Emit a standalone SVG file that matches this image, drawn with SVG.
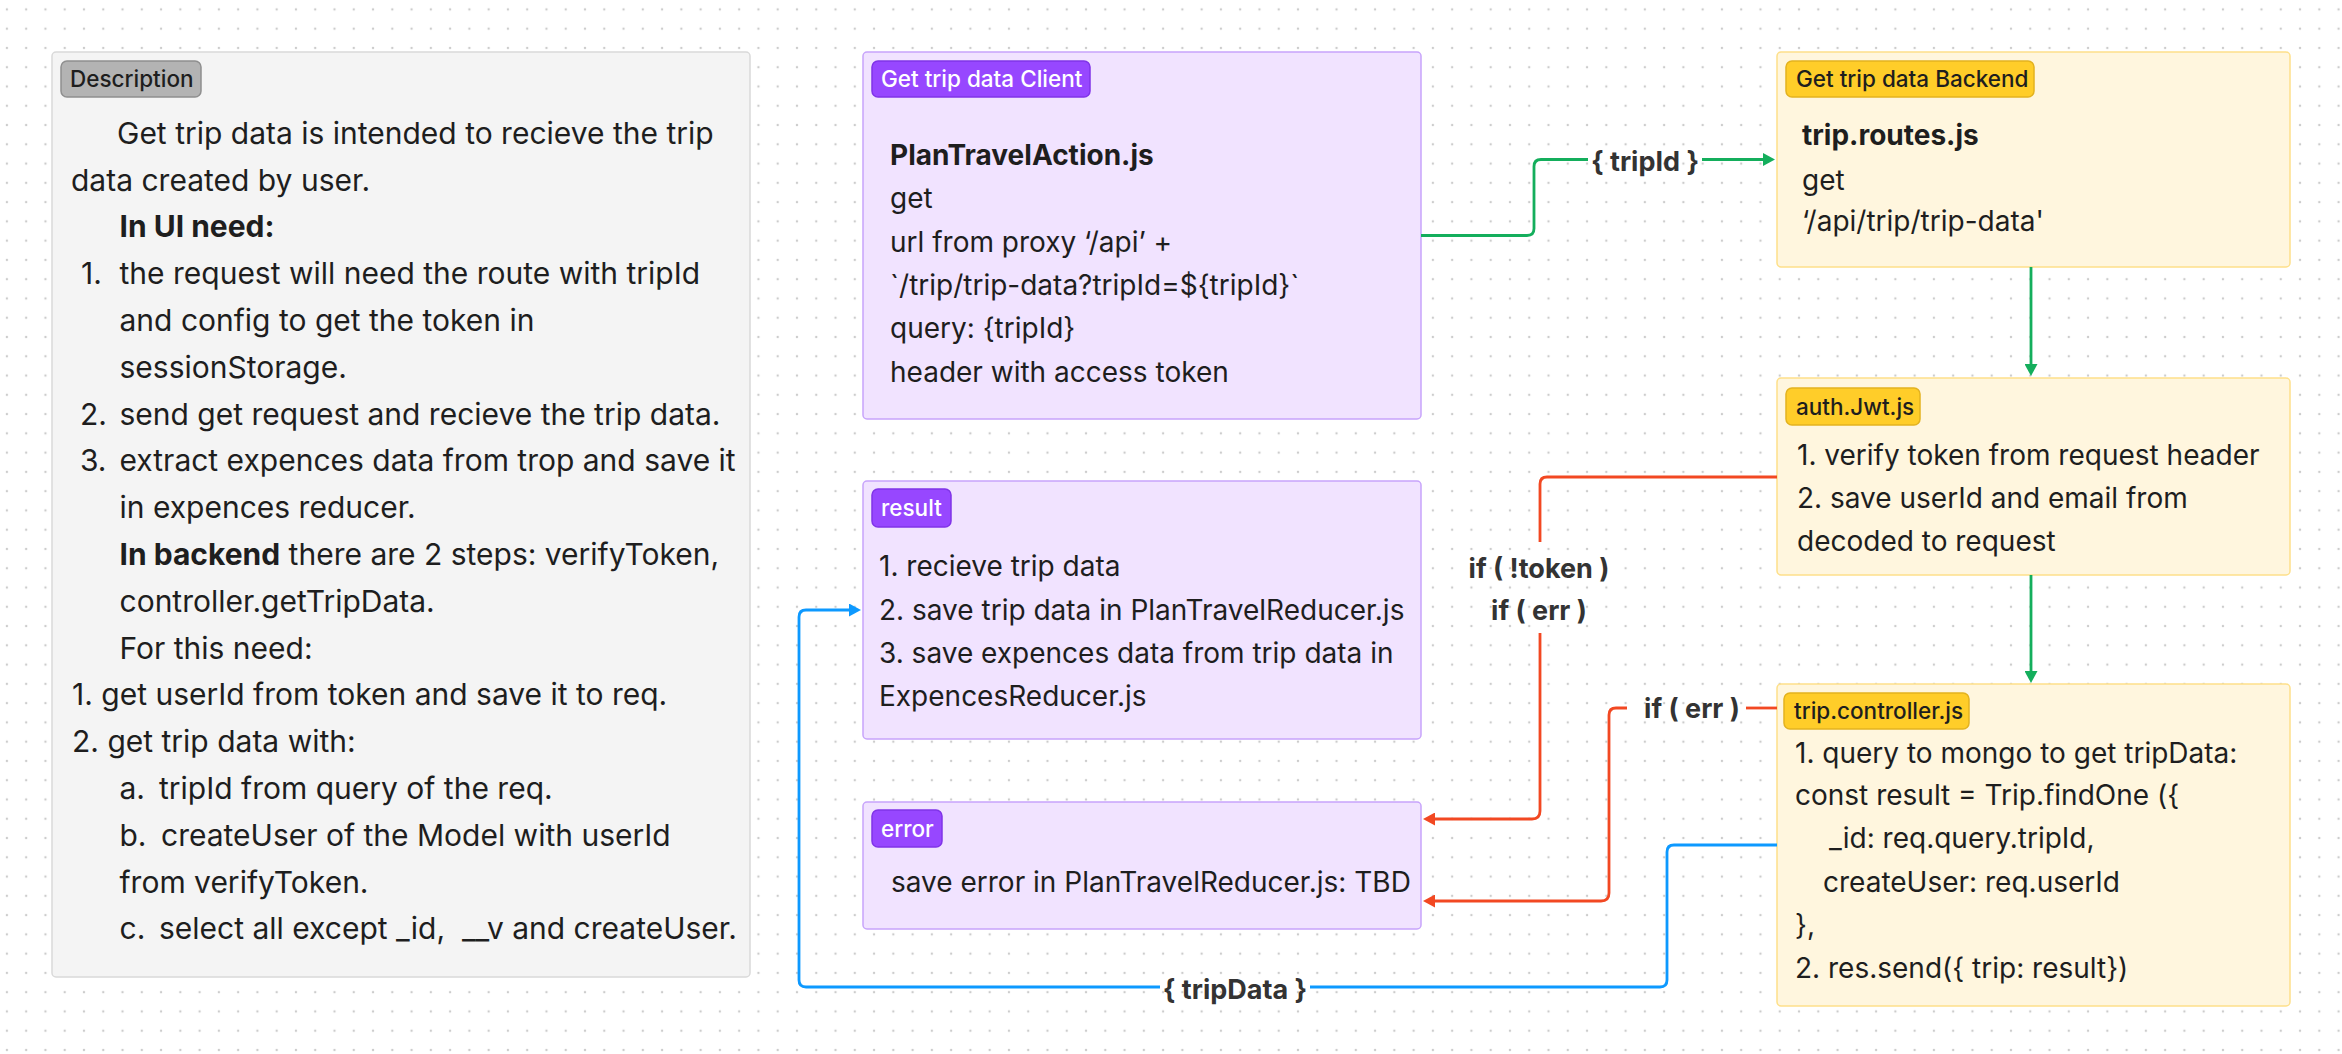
<svg xmlns="http://www.w3.org/2000/svg" width="2342" height="1054" viewBox="0 0 2342 1054">
<defs>
<pattern id="dots" x="-2.735" y="-0.235" width="19.27" height="19.27" patternUnits="userSpaceOnUse"><circle cx="9.635" cy="9.635" r="1.2" fill="#cccccc"/></pattern>
<marker id="ag" viewBox="0 0 12 13" refX="1" refY="6.5" markerWidth="12" markerHeight="13" markerUnits="userSpaceOnUse" orient="auto"><path d="M0,0 L12,6.5 L0,13 z" fill="#14AE5C"/></marker>
<marker id="ar" viewBox="0 0 12 13" refX="1" refY="6.5" markerWidth="12" markerHeight="13" markerUnits="userSpaceOnUse" orient="auto"><path d="M0,0 L12,6.5 L0,13 z" fill="#F24822"/></marker>
<marker id="ab" viewBox="0 0 12 13" refX="1" refY="6.5" markerWidth="12" markerHeight="13" markerUnits="userSpaceOnUse" orient="auto"><path d="M0,0 L12,6.5 L0,13 z" fill="#0D99FF"/></marker>
</defs>
<style>
.t{font-family:Inter,"Noto Sans",sans-serif;font-size:28px;fill:#1e1e1e}
.d{font-size:30px}
.b{font-weight:700}
.bt{font-family:Inter,"Noto Sans",sans-serif;font-size:22.5px;font-weight:500;fill:#1e1e1e}
.w{fill:#ffffff}
.lbl{font-family:Inter,"Noto Sans",sans-serif;font-size:27px;font-weight:700;fill:#333333;text-anchor:middle}
.desc{fill:#f4f4f4;stroke:#d9d9d9;stroke-width:1.5}
.dbadge{fill:#b3b3b3;stroke:#8f8f8f;stroke-width:1.5}
.pbox{fill:#f1e3ff;stroke:#c7a4fb;stroke-width:1.5}
.pbadge{fill:#9747ff;stroke:#8034e8;stroke-width:1.5}
.ybox{fill:#fff6de;stroke:#fee08a;stroke-width:1.5}
.ybadge{fill:#ffcd29;stroke:#e3b21f;stroke-width:1.5}
.c{fill:none;stroke-width:2.8;stroke-linejoin:round}
.g{stroke:#14AE5C}
.r{stroke:#F24822}
.bl{stroke:#0D99FF}
</style>
<rect width="2342" height="1054" fill="#ffffff"/>
<rect width="2342" height="1054" fill="url(#dots)"/>

<g id="description">
<rect class="desc" x="52" y="52" width="698" height="925" rx="4"/>
<rect class="dbadge" x="61" y="61" width="140" height="36" rx="6"/>
<text class="bt" x="70" y="87">Description</text>
<text class="t d" x="117" y="143.8">Get trip data is intended to recieve the trip</text>
<text class="t d" x="71" y="190.6">data created by user.</text>
<text class="t d b" x="119.5" y="237.4">In UI need:</text>
<text class="t d" x="81" y="284.2">1.</text><text class="t d" x="119.5" y="284.2">the request will need the route with tripId</text>
<text class="t d" x="119.5" y="331">and config to get the token in</text>
<text class="t d" x="119.5" y="377.8">sessionStorage.</text>
<text class="t d" x="80" y="424.6">2.</text><text class="t d" x="119.5" y="424.6">send get request and recieve the trip data.</text>
<text class="t d" x="80" y="471.4">3.</text><text class="t d" x="119.5" y="471.4">extract expences data from trop and save it</text>
<text class="t d" x="119.5" y="518.2">in expences reducer.</text>
<text class="t d" x="119.5" y="565"><tspan class="b">In backend</tspan> there are 2 steps: verifyToken,</text>
<text class="t d" x="119.5" y="611.8">controller.getTripData.</text>
<text class="t d" x="119.5" y="658.6">For this need:</text>
<text class="t d" x="72" y="705.4">1. get userId from token and save it to req.</text>
<text class="t d" x="72" y="752.2">2. get trip data with:</text>
<text class="t d" x="119.5" y="799">a.</text><text class="t d" x="159" y="799">tripId from query of the req.</text>
<text class="t d" x="119.5" y="845.8">b.</text><text class="t d" x="161" y="845.8">createUser of the Model with userId</text>
<text class="t d" x="119.5" y="892.6">from verifyToken.</text>
<text class="t d" x="119.5" y="939.4">c.</text><text class="t d" x="159" y="939.4" xml:space="preserve">select all except _id,  __v and createUser.</text>
</g>

<g id="client">
<rect class="pbox" x="863" y="52" width="558" height="367" rx="4"/>
<rect class="pbadge" x="872" y="61" width="218" height="36" rx="6"/>
<text class="bt w" x="881" y="87">Get trip data Client</text>
<text class="t b" x="890" y="165">PlanTravelAction.js</text>
<text class="t" x="890" y="208">get</text>
<text class="t" x="890" y="252">url from proxy ‘/api’ +</text>
<text class="t" x="890" y="295">`/trip/trip-data?tripId=${tripId}`</text>
<text class="t" x="890" y="338">query: {tripId}</text>
<text class="t" x="890" y="382">header with access token</text>
</g>

<g id="result">
<rect class="pbox" x="863" y="481" width="558" height="258" rx="4"/>
<rect class="pbadge" x="872" y="489" width="79" height="38" rx="6"/>
<text class="bt w" x="881" y="516">result</text>
<text class="t" x="879" y="576">1. recieve trip data</text>
<text class="t" x="879" y="620">2. save trip data in PlanTravelReducer.js</text>
<text class="t" x="879" y="663">3. save expences data from trip data in</text>
<text class="t" x="879" y="706">ExpencesReducer.js</text>
</g>

<g id="error">
<rect class="pbox" x="863" y="802" width="558" height="127" rx="4"/>
<rect class="pbadge" x="872" y="810" width="70" height="37" rx="6"/>
<text class="bt w" x="881" y="836.5">error</text>
<text class="t" x="891" y="892">save error in PlanTravelReducer.js: TBD</text>
</g>

<g id="backend">
<rect class="ybox" x="1777" y="52" width="513" height="215" rx="4"/>
<rect class="ybadge" x="1786" y="61" width="248" height="36" rx="6"/>
<text class="bt" x="1796" y="87">Get trip data Backend</text>
<text class="t b" x="1802" y="145">trip.routes.js</text>
<text class="t" x="1802" y="190">get</text>
<text class="t" x="1802" y="231">‘/api/trip/trip-data'</text>
</g>

<g id="auth">
<rect class="ybox" x="1777" y="378" width="513" height="197" rx="4"/>
<rect class="ybadge" x="1786" y="388" width="134" height="37" rx="6"/>
<text class="bt" x="1796" y="414.5">auth.Jwt.js</text>
<text class="t" x="1797" y="465">1. verify token from request header</text>
<text class="t" x="1797" y="508">2. save userId and email from</text>
<text class="t" x="1797" y="551">decoded to request</text>
</g>

<g id="controller">
<rect class="ybox" x="1777" y="684" width="513" height="322" rx="4"/>
<rect class="ybadge" x="1784" y="693" width="185" height="36" rx="6"/>
<text class="bt" x="1794" y="719">trip.controller.js</text>
<text class="t" x="1795" y="763">1. query to mongo to get tripData:</text>
<text class="t" x="1795" y="805">const result = Trip.findOne ({</text>
<text class="t" x="1829" y="848">_id: req.query.tripId,</text>
<text class="t" x="1823" y="892">createUser: req.userId</text>
<text class="t" x="1795" y="935">},</text>
<text class="t" x="1795" y="978">2. res.send({ trip: result})</text>
</g>

<g id="connectors">
<path class="c g" d="M1421,235.5 H1527 Q1534,235.5 1534,228.5 V166.5 Q1534,159.5 1541,159.5 H1588"/>
<path class="c g" d="M1702,159.5 H1764" marker-end="url(#ag)"/>
<text class="lbl" x="1645" y="171">{ tripId }</text>
<path class="c g" d="M2031,267 V365" marker-end="url(#ag)"/>
<path class="c g" d="M2031,575 V672" marker-end="url(#ag)"/>
<path class="c r" d="M1777,477 H1547 Q1540,477 1540,484 V542"/>
<text class="lbl" x="1539" y="578">if ( !token )</text>
<text class="lbl" x="1539" y="620">if ( err )</text>
<path class="c r" d="M1540,633 V811 Q1540,819 1532,819 H1434" marker-end="url(#ar)"/>
<path class="c r" d="M1777,708 H1746"/>
<text class="lbl" x="1692" y="718">if ( err )</text>
<path class="c r" d="M1627,708 H1616 Q1609,708 1609,715 V893 Q1609,901 1601,901 H1434" marker-end="url(#ar)"/>
<path class="c bl" d="M1777,845 H1674 Q1667,845 1667,852 V980 Q1667,987 1660,987 H1310"/>
<text class="lbl" x="1235" y="999">{ tripData }</text>
<path class="c bl" d="M1160,987 H806 Q799,987 799,980 V617 Q799,610 806,610 H850" marker-end="url(#ab)"/>
</g>
</svg>
